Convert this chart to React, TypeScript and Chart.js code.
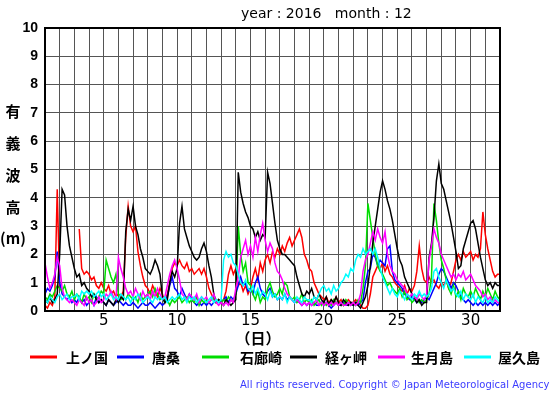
import React, { useEffect, useRef } from "react";
import { Chart, registerables } from "chart.js";

Chart.register(...registerables);

// ---- data (4-hourly samples, 6 per day, starting day 1 00:00, ending day 32 00:00) ----
const SAMPLES_PER_DAY = 6;
const DAY_MIN = 1;
const DAY_MAX = 32;
const Y_MIN = 0;
const Y_MAX = 10;
const X_LABEL_DAYS = [5, 10, 15, 20, 25, 30];

const TITLE = "year : 2016   month : 12";
const Y_LABEL_CHARS = ["有", "義", "波", "高", "(m)"];
const X_UNIT = "（日）";
const COPYRIGHT = "All rights reserved. Copyright © Japan Meteorological Agency";

const STATIONS = ["上ノ国", "唐桑", "石廊崎", "経ヶ岬", "生月島", "屋久島"];
const COLORS = ["#ff0000", "#0000ff", "#00dd00", "#000000", "#ff00ff", "#00ffff"];

const kaminokuni: (number | null)[] = [
  0.2, 0.1, 0.3, 0.2, 0.5, 4.3,
  0.8, null, null, null, null, null,
  null, null, 2.9, 1.5, 1.3, 1.4,
  1.3, 1.1, 1.2, 0.9, 0.8, 1.0,
  0.8, 0.7, 0.9, 0.6, 0.7, 0.5,
  0.6, 0.5, 0.7, 2.6, 3.7, 3.0,
  2.8, 3.0, 2.1, 1.6, 1.2, 0.9,
  0.8, 0.6, 0.9, 0.7, 0.5, 0.8,
  0.6, 0.3, 0.6, 1.0, 1.5, 1.7,
  1.6, 1.8, 1.6, 1.5, 1.7, 1.4,
  1.5, 1.3, 1.4, 1.5, 1.3, 1.5,
  1.2, 0.8, 0.6, 0.4, 0.3, 0.4,
  0.3, 0.4, 0.7, 1.3, 1.6, 1.3,
  1.5, 0.9, 1.0, 0.7, 0.9, 0.6,
  0.8, 1.2, 1.5, 1.1, 1.7, 1.4,
  1.8, 2.0, 1.7, 2.1, 1.9, 2.2,
  2.0, 2.3, 2.1, 2.4, 2.6, 2.3,
  2.5, 2.7, 2.9, 2.6, 2.0, 1.8,
  1.5, 1.4, 1.0, 0.8, 0.6, 0.5,
  0.4, 0.5, 0.3, 0.4, 0.3, 0.5,
  0.3, 0.4, 0.2, 0.3, 0.4, 0.3,
  0.3, 0.4, 0.3, 0.2, 0.1, 0.1,
  0.2, 0.6, 1.2, 1.4, 1.6, 1.5,
  1.7, 1.4, 1.6, 1.3, 1.2, 1.0,
  0.9, 0.8, 0.7, 0.9, 0.6, 0.8,
  0.7, 0.9, 1.4, 2.3, 1.5, 1.1,
  1.0, 1.2, 1.0, 1.1, 0.9, 0.8,
  1.0, 0.9, 1.1, 0.8, 1.0, 1.4,
  1.8, 2.0, 1.8, 2.1, 1.9, 2.0,
  2.1, 1.8, 2.0, 1.9, 2.2, 3.5,
  2.7, 2.2, 1.8, 1.4, 1.2, 1.3,
  1.3,
];

const karakuwa: (number | null)[] = [
  0.6, 0.8, 0.7, 0.9, 1.2, 2.1,
  1.0, 0.6, 0.5, 0.4, 0.5, 0.3,
  0.4, 0.3, 0.5, 0.3, 0.4, 0.2,
  0.3, 0.4, 0.2, 0.5, 0.3, 0.4,
  0.3, 0.2, 0.4, 0.3, 0.2, 0.3,
  0.4, 0.3, 0.2, 0.3, 0.2, 0.2,
  0.3, 0.2, 0.1, 0.2, 0.3, 0.2,
  0.2, 0.3, 0.2, 0.1, 0.2, 0.3,
  0.2, 0.3, 0.5, 0.9, 1.2, 0.8,
  0.7, 0.5, 0.8, 0.6, 0.4, 0.6,
  0.4, 0.3, 0.2, 0.3, 0.2, 0.3,
  0.2, 0.3, 0.2, 0.3, 0.4, 0.3,
  0.3, 0.4, 0.5, 0.3, 0.5, 0.4,
  0.6, 0.9, 1.2, 0.9, 1.0, 0.7,
  0.8, 0.6, 1.0, 1.2, 0.8, 0.6,
  0.5, 0.7, 0.8, 0.5, 0.6, 0.4,
  0.5, 0.4, 0.6, 0.4, 0.5, 0.4,
  0.3, 0.4, 0.3, 0.2, 0.3, 0.2,
  0.3, 0.2, 0.3, 0.2, 0.2, 0.3,
  0.2, 0.3, 0.2, 0.1, 0.2, 0.3,
  0.2, 0.2, 0.3, 0.2, 0.2, 0.3,
  0.2, 0.3, 0.2, 0.3, 0.4, 1.0,
  1.4, 1.5, 2.0, 1.9, 1.6, 1.8,
  1.7, 1.6, 2.2, 2.3, 1.4, 1.1,
  1.0, 0.9, 0.8, 0.6, 0.5, 0.4,
  0.5, 0.4, 0.3, 0.4, 0.3, 0.4,
  0.5, 0.4, 0.6, 0.8, 1.0, 1.3,
  1.5, 1.4, 1.2, 1.0, 0.8, 1.0,
  0.9, 0.7, 0.5, 0.4, 0.3, 0.4,
  0.3, 0.2, 0.3, 0.2, 0.3, 0.2,
  0.3, 0.2, 0.3, 0.2, 0.3, 0.2,
  0.3,
];

const irozaki: (number | null)[] = [
  0.5, 0.4, 0.6, 0.5, 0.7, 0.9,
  0.8, 0.7, 0.9, 0.6, 0.5, 0.7,
  0.4, 0.6, 0.5, 0.3, 0.6, 0.4,
  0.5, 0.3, 0.6, 0.4, 0.5, 0.7,
  0.6, 1.8, 1.5, 1.2, 1.0, 1.3,
  0.6, 0.4, 0.5, 0.4, 0.6, 0.5,
  0.4, 0.5, 0.3, 0.6, 0.4, 0.5,
  0.6, 0.7, 0.5, 0.8, 0.6, 0.4,
  0.5, 0.3, 0.4, 0.2, 0.4, 0.3,
  0.4, 0.5, 0.3, 0.4, 0.5, 0.3,
  0.4, 0.3, 0.5, 0.2, 0.4, 0.3,
  0.4, 0.3, 0.4, 0.5, 0.3, 0.4,
  0.3, 0.4, 0.3, 0.5, 0.4, 0.3,
  0.6, 3.0, 2.0, 1.4, 1.7, 1.0,
  0.9, 0.6, 0.4, 0.7, 0.3, 0.5,
  0.4, 0.8, 1.0, 0.7, 0.5, 0.6,
  0.8, 0.6, 1.0, 0.9, 0.5, 0.4,
  0.5, 0.3, 0.4, 0.6, 0.3, 0.4,
  0.3, 0.4, 0.2, 0.3, 0.4, 0.2,
  0.3, 0.2, 0.3, 0.2, 0.4, 0.3,
  0.2, 0.3, 0.2, 0.4, 0.3, 0.2,
  0.3, 0.2, 0.4, 0.3, 0.8, 1.6,
  3.8, 3.2, 2.6, 2.0, 1.6, 1.4,
  1.3, 1.1, 0.9, 1.0, 0.8, 0.7,
  0.6, 0.8, 0.5, 0.7, 0.4, 0.5,
  0.3, 0.4, 0.5, 0.3, 0.4, 0.3,
  0.4, 0.6, 1.2, 3.8, 3.2, 2.4,
  1.8, 1.5, 1.1, 0.8, 0.6, 0.9,
  0.5, 0.7, 0.4, 0.8, 0.6, 0.5,
  0.7, 0.5, 0.8, 0.6, 0.4, 0.7,
  0.5, 0.8, 0.6, 0.4, 0.7, 0.5,
  0.4,
];

const kyogamisaki: (number | null)[] = [
  0.4, 0.3, 0.5, 0.3, 0.4, 0.6,
  2.0, 4.3, 4.1, 3.0, 2.3, 1.9,
  1.5, 1.2, 1.3, 0.9, 1.0, 0.8,
  0.7, 0.5, 0.6, 0.4, 0.3, 0.4,
  0.3, 0.2, 0.4, 0.3, 0.2, 0.4,
  0.3, 0.5, 0.4, 2.8, 3.6, 3.2,
  3.7, 3.0, 2.7, 2.2, 1.9, 1.5,
  1.4, 1.3, 1.5, 1.8, 1.6, 1.3,
  0.5, 0.3, 0.4, 1.0, 1.4, 1.2,
  1.5, 3.1, 3.7, 2.9, 2.6, 2.3,
  2.1, 1.9, 1.8, 1.9, 2.2, 2.4,
  2.1, 1.6, 1.2, 0.6, 0.3, 0.4,
  0.3, 0.2, 0.4, 0.3, 0.2, 0.3,
  0.4, 4.9, 4.2, 3.8, 3.5, 3.3,
  3.0, 2.9, 2.6, 2.8, 2.5, 2.7,
  2.6, 4.9, 4.5, 3.8, 3.1, 2.5,
  2.2, 2.0, 2.0, 1.9, 1.8, 1.7,
  1.6, 1.2, 0.9, 0.6, 0.5, 0.7,
  0.6, 0.8, 0.5, 0.4, 0.6, 0.4,
  0.3, 0.5, 0.2, 0.4, 0.3, 0.5,
  0.3, 0.2, 0.4, 0.3, 0.2, 0.3,
  0.2, 0.3, 0.2, 0.1, 0.3, 0.5,
  0.9, 1.6, 2.4, 3.0, 3.6, 4.2,
  4.6, 4.3, 3.9, 3.6, 3.2, 2.7,
  2.2, 1.8, 1.6, 1.2, 1.0, 0.8,
  0.6, 0.5, 0.3, 0.4, 0.2, 0.3,
  0.3, 1.9, 2.4, 3.3, 4.6, 5.2,
  4.5, 4.3, 3.9, 3.5, 3.1, 2.6,
  2.1, 1.5, 1.6, 2.2, 2.5, 2.8,
  3.1, 3.2, 2.9, 2.4, 1.9, 1.5,
  1.1, 0.9, 1.0, 0.8, 1.0, 0.9,
  0.9,
];

const ikitsukishima: (number | null)[] = [
  1.7, 1.2, 0.8, 1.0, 1.3, 1.9,
  1.6, 0.8, 0.5, 0.4, 0.3, 0.4,
  0.3, 0.2, 0.4, 0.3, 0.2, 0.5,
  0.3, 0.4, 0.2, 0.3, 0.5, 0.3,
  0.4, 0.6, 0.5, 0.7, 0.5, 0.4,
  1.9, 1.5, 1.2, 0.8, 0.6, 0.7,
  0.5, 0.8, 0.6, 0.4, 0.7, 0.5,
  0.6, 0.4, 0.7, 0.5, 0.8, 0.6,
  0.4, 0.5, 0.9, 1.3, 1.6, 1.8,
  1.5, 1.1, 0.6, 0.5, 0.4, 0.6,
  0.5, 0.4, 0.6, 0.3, 0.5, 0.4,
  0.5, 0.3, 0.4, 0.6, 0.3, 0.2,
  0.3, 0.2, 0.3, 0.2, 0.4, 0.3,
  0.8, 1.2, 1.9, 2.2, 2.5, 2.0,
  2.3, 1.9, 2.6, 2.1, 2.7, 3.1,
  2.5, 2.1, 2.4, 2.2, 1.7, 1.4,
  1.3, 1.1, 0.8, 0.6, 0.5, 0.4,
  0.3, 0.4, 0.3, 0.2, 0.3, 0.2,
  0.3, 0.2, 0.3, 0.4, 0.2, 0.3,
  0.2, 0.3, 0.2, 0.3, 0.2, 0.3,
  0.2, 0.3, 0.2, 0.2, 0.3, 0.2,
  0.3, 0.2, 0.3, 0.6, 1.4, 1.8,
  2.0, 2.4, 2.8, 2.5, 2.9, 2.6,
  2.4, 2.8, 2.0, 1.6, 1.4, 1.3,
  1.1, 1.0, 0.9, 0.8, 0.6, 0.5,
  0.6, 0.5, 0.4, 0.6, 0.5, 0.4,
  0.6, 1.8, 2.3, 2.9, 2.6, 2.4,
  2.0, 1.8, 1.6, 1.4, 1.2, 1.3,
  1.1, 1.3, 1.2, 1.4, 1.1, 1.2,
  1.3, 1.1, 0.9, 0.8, 0.7, 0.5,
  0.6, 0.4, 0.5, 0.3, 0.4, 0.3,
  0.3,
];

const yakushima: (number | null)[] = [
  0.4, 0.3, 0.5, 0.4, 0.3, 0.5,
  0.6, 0.4, 0.5, 0.6, 0.4, 0.5,
  0.5, 0.6, 0.4, 0.7, 0.6, 0.7,
  0.6, 0.7, 0.5, 0.6, 0.7, 0.5,
  0.6, 0.4, 0.5, 0.6, 0.4, 0.5,
  0.4, 0.6, 0.5, 0.4, 0.5, 0.3,
  0.5, 0.4, 0.6, 0.5, 0.3, 0.4,
  0.5, 0.4, 0.3, 0.5, 0.4, 0.5,
  0.4, 0.5, 0.3, 0.4, 0.5, 0.4,
  0.5, 0.6, 0.4, 0.5, 0.3, 0.5,
  0.4, 0.5, 0.3, 0.4, 0.5, 0.4,
  0.3, 0.4, 0.5, 0.3, 0.4, 0.3,
  0.4, 1.8, 2.1, 1.9, 2.0, 1.7,
  1.6, 1.3, 1.0, 0.9, 1.1, 0.8,
  0.7, 0.9, 0.6, 0.8, 0.5, 0.7,
  0.6, 0.4, 0.7, 0.5, 0.6, 0.4,
  0.5, 0.4, 0.6, 0.3, 0.5, 0.4,
  0.3, 0.5, 0.4, 0.3, 0.5, 0.4,
  0.4, 0.3, 0.5, 0.4, 0.6, 0.8,
  0.9, 0.7, 0.8, 0.6, 0.9, 0.7,
  0.8, 1.0, 1.1, 1.3, 1.2, 1.5,
  1.4, 1.8, 2.0, 1.9, 2.2, 2.0,
  2.1, 2.2, 2.0, 2.2, 1.9, 1.5,
  1.2, 1.0, 0.8, 0.6, 0.8, 0.6,
  0.5, 0.7, 0.6, 0.4, 0.6, 0.5,
  0.4, 0.6, 0.5, 0.7, 0.5, 0.6,
  0.5, 0.6, 0.8, 1.4, 1.5, 1.2,
  1.0, 0.8, 1.1, 0.9, 0.7, 0.8,
  0.6, 0.5, 0.7, 0.4, 0.6, 0.5,
  0.4, 0.6, 0.3, 0.5, 0.4, 0.3,
  0.5, 0.3, 0.4, 0.3, 0.5, 0.4,
  0.3,
];

const SERIES = [kaminokuni, karakuwa, irozaki, kyogamisaki, ikitsukishima, yakushima];

// ---- layout ----
const W = 555;
const H = 395;
const PLOT_LEFT = 45;
const PLOT_RIGHT = 500;
const PLOT_TOP = 28;
const PLOT_BOTTOM = 311;

const LEGEND_Y = 357;
const LEGEND_ITEMS = [
  { lineX: 30, textX: 66 },
  { lineX: 117, textX: 152 },
  { lineX: 202, textX: 240 },
  { lineX: 290, textX: 325 },
  { lineX: 378, textX: 411 },
  { lineX: 464, textX: 498 },
];
const LEGEND_LINE_LEN = 27;

const CJK = '"Noto Sans CJK JP", "Noto Sans", sans-serif';

const extrasPlugin = {
  id: "extras",
  afterDraw(chart: any) {
    const ctx: CanvasRenderingContext2D = chart.ctx;
    const area = chart.chartArea;
    ctx.save();
    // frame
    ctx.strokeStyle = "#000";
    ctx.lineWidth = 2;
    ctx.strokeRect(area.left, area.top, area.right - area.left, area.bottom - area.top);

    // title
    ctx.fillStyle = "#000";
    ctx.font = '14px "DejaVu Sans", sans-serif';
    ctx.textBaseline = "middle";
    ctx.textAlign = "left";
    ctx.fillText(TITLE, 241, 14);

    // y label
    ctx.font = `bold 15px ${CJK}`;
    ctx.textAlign = "center";
    const ys = [111, 143, 175, 207, 238];
    Y_LABEL_CHARS.forEach((c, i) => ctx.fillText(c, 13, ys[i]));

    // x unit
    ctx.font = `bold 15px ${CJK}`;
    ctx.fillText(X_UNIT, 258, 338);

    // legend
    ctx.textAlign = "left";
    STATIONS.forEach((name, i) => {
      const it = LEGEND_ITEMS[i];
      ctx.strokeStyle = COLORS[i];
      ctx.lineWidth = 3;
      ctx.beginPath();
      ctx.moveTo(it.lineX, LEGEND_Y);
      ctx.lineTo(it.lineX + LEGEND_LINE_LEN, LEGEND_Y);
      ctx.stroke();
      ctx.fillStyle = "#000";
      ctx.font = `bold 14px ${CJK}`;
      ctx.fillText(name, it.textX, LEGEND_Y + 1);
    });

    // copyright (spread to fit)
    ctx.font = '10px "DejaVu Sans", sans-serif';
    ctx.fillStyle = "#3b3bff";
    const x0 = 240;
    const targetW = 309;
    const chars = Array.from(COPYRIGHT);
    const natural = ctx.measureText(COPYRIGHT).width;
    const extra = (targetW - natural) / (chars.length - 1);
    let x = x0;
    chars.forEach((ch) => {
      ctx.fillText(ch, x, 385);
      x += ctx.measureText(ch).width + extra;
    });
    ctx.restore();
  },
};

export default function App() {
  const ref = useRef<HTMLCanvasElement>(null);
  useEffect(() => {
    if (!ref.current) return;
    const datasets = SERIES.map((vals, si) => ({
      label: STATIONS[si],
      data: vals.map((v, i) => ({ x: DAY_MIN + i / SAMPLES_PER_DAY, y: v })),
      borderColor: COLORS[si],
      backgroundColor: COLORS[si],
      borderWidth: 1.5,
      pointRadius: 0,
      fill: false,
      spanGaps: false,
      tension: 0,
      order: SERIES.length - si,
    }));
    const chart = new Chart(ref.current, {
      type: "line",
      data: { datasets },
      options: {
        responsive: false,
        animation: false,
        events: [],
        layout: {
          padding: { left: 0, top: PLOT_TOP, right: W - PLOT_RIGHT, bottom: 0 },
        },
        plugins: { legend: { display: false }, tooltip: { enabled: false }, title: { display: false } },
        scales: {
          x: {
            type: "linear",
            min: DAY_MIN,
            max: DAY_MAX,
            afterFit: (s: any) => {
              s.height = H - PLOT_BOTTOM;
            },
            grid: { color: "#555555", lineWidth: 1, drawTicks: false },
            border: { display: false },
            ticks: {
              stepSize: 1,
              autoSkip: false,
              maxRotation: 0,
              padding: 1,
              color: "#000",
              font: { family: "DejaVu Sans", size: 15 },
              callback: (v: any) => (X_LABEL_DAYS.includes(Number(v)) ? String(v) : ""),
            },
          },
          y: {
            min: Y_MIN,
            max: Y_MAX,
            afterFit: (s: any) => {
              s.width = PLOT_LEFT;
            },
            grid: { color: "#555555", lineWidth: 1, drawTicks: false },
            border: { display: false },
            ticks: {
              stepSize: 1,
              padding: 7,
              color: "#000",
              font: { family: "Liberation Sans", size: 14, weight: "bold" },
            },
          },
        },
      },
      plugins: [extrasPlugin],
    } as any);
    return () => chart.destroy();
  }, []);
  return (
    <div style={{ position: "fixed", left: 0, top: 0, width: W, height: H, background: "#fff" }}>
      <canvas ref={ref} width={W} height={H} style={{ display: "block", width: W, height: H }} />
    </div>
  );
}
